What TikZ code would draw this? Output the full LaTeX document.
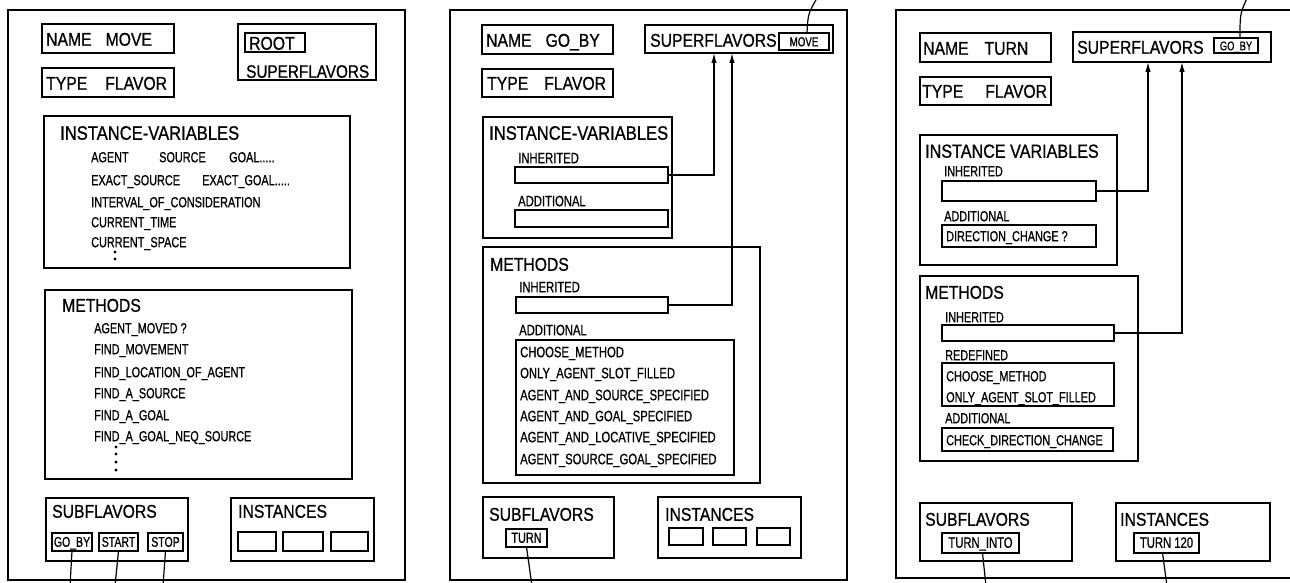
\documentclass[tikz,border=0pt]{standalone}
\usepackage{fontspec}
\newfontfamily\hf[FakeStretch=0.85,FakeBold=0.8]{Liberation Sans}
\newfontfamily\df[FakeStretch=0.75,FakeBold=0.8]{Liberation Sans}
\usetikzlibrary{arrows.meta,calc}
\newcommand\mybox[6][bxs]{\node[#1, minimum width={(#5)-(#3)}, minimum height={(#6)-(#4)}] (#2) at ({((#3)+(#5))/2},{((#4)+(#6))/2}) {};}
\begin{document}
\begin{tikzpicture}[x=1pt,y=-1pt,
  bxs/.style={draw, line width=1.5pt, inner sep=0pt, outer sep=0pt, rectangle},
  obx/.style={bxs, line width=1.8pt},
  sbx/.style={bxs, line width=1.2pt},
  hd/.style={font=\hf\fontsize{#1}{#1}\selectfont, inner sep=0pt, anchor=west, text height=13.5pt, text depth=0pt},
  hd/.default=18.5,
  it/.style={font=\df\fontsize{#1}{#1}\selectfont, inner sep=0pt, anchor=west, text height=10.4pt, text depth=0pt},
  it/.default=14.5,
  sm/.style={font=\df\fontsize{#1}{#1}\selectfont, inner sep=0pt, text height=9.5pt, text depth=0pt},
  sm/.default=14,
  con/.style={line width=1.2pt},
  arr/.style={con, -{Latex[length=10pt,width=5.5pt]}},
  dot/.style={fill=black}
]
\useasboundingbox (0,0) rectangle (1290,583);
\fill[white] (0,0) rectangle (1290,583);
\clip (0,0) rectangle (1290,583);

% ================= LEFT PANEL =================
\mybox[obx]{L}{8}{10}{405}{580}
\mybox{Lname}{42}{24}{174}{53}
\node[hd] (Lnamet) at (46,39) {NAME\hspace{14pt}MOVE};
\mybox{Ltype}{42}{68}{174}{97}
\node[hd] (Ltypet) at (46,83) {TYPE\hspace{18pt}FLAVOR};
\mybox{Lsup}{238}{24}{376}{80}
\mybox[sbx]{Lroot}{245}{33}{305}{52}
\node[hd] (Lroott) at (249,43) {ROOT};
\node[hd=18] (Lsupt) at (246,71) {SUPERFLAVORS};

\mybox{Liv}{44}{116}{350}{268}
\node[hd=19.5] (Livt) at (60,133) {INSTANCE-VARIABLES};
\node[it] (La1) at (91,157) {AGENT};
\node[it] (La2) at (159,157) {SOURCE};
\node[it] (La3) at (229,157) {GOAL.....};
\node[it] (Lb1) at (91,180) {EXACT\_SOURCE};
\node[it] (Lb2) at (202,180) {EXACT\_GOAL.....};
\node[it] (Lc) at (91,202) {INTERVAL\_OF\_CONSIDERATION};
\node[it] (Ld) at (91,222) {CURRENT\_TIME};
\node[it] (Le) at (91,242) {CURRENT\_SPACE};
\fill[dot] (115,252) circle (1.7) (115,259) circle (1.7);

\mybox{Lme}{45}{290}{352}{479}
\node[hd] (Lmet) at (62,305) {METHODS};
\node[it] (Lm1) at (94,328) {AGENT\_MOVED ?};
\node[it] (Lm2) at (94,349) {FIND\_MOVEMENT};
\node[it] (Lm3) at (94,372) {FIND\_LOCATION\_OF\_AGENT};
\node[it] (Lm4) at (94,393) {FIND\_A\_SOURCE};
\node[it] (Lm5) at (94,415) {FIND\_A\_GOAL};
\node[it] (Lm6) at (94,436) {FIND\_A\_GOAL\_NEQ\_SOURCE};
\fill[dot] (116,447) circle (1.7) (116,454) circle (1.7) (116,462) circle (1.7) (116,470) circle (1.7);

\mybox{Lsub}{46}{498}{188}{561}
\node[hd] (Lsubt) at (52,511) {SUBFLAVORS};
\mybox[sbx]{Lgo}{52}{533}{92}{551}
\node[sm] (Lgot) at (Lgo) {GO\_BY};
\mybox[sbx]{Lst}{99}{533}{138}{551}
\node[sm] (Lstt) at (Lst) {START};
\mybox[sbx]{Lsp}{148}{533}{183}{551}
\node[sm] (Lspt) at (Lsp) {STOP};
\mybox{Lin}{231}{498}{374}{561}
\node[hd] (Lint) at (238,511) {INSTANCES};
\mybox[sbx]{Li1}{238}{532}{276}{551}
\mybox[sbx]{Li2}{283}{532}{323}{551}
\mybox[sbx]{Li3}{331}{532}{368}{551}

\coordinate (Lge) at (70,586);
\coordinate (Lse) at (115,586);
\coordinate (Lpe) at (163,586);
\draw[con] (Lgo.south) -- (Lge);
\draw[con] (Lst.south) -- (Lse);
\draw[con] (Lsp.south) -- (Lpe);

% ================= MIDDLE PANEL =================
\mybox[obx]{M}{450}{10}{847}{580}
\mybox{Mname}{482}{25}{613}{54}
\node[hd] (Mnamet) at (486,40) {NAME\hspace{14pt}GO\_BY};
\mybox{Mtype}{482}{69}{613}{97}
\node[hd] (Mtypet) at (487,83) {TYPE\hspace{16pt}FLAVOR};
\mybox{Msup}{645}{25}{833}{53}
\node[hd] (Msupt) at (650,40) {SUPERFLAVORS};
\mybox[sbx]{Mmove}{779}{33}{829}{50}
\node[sm=13] (Mmovet) at (Mmove) {MOVE};

\mybox{Miv}{483}{117}{672}{238}
\node[hd=19.5] (Mivt) at (489,133) {INSTANCE-VARIABLES};
\node[it=15] (Mivl1) at (518,158) {INHERITED};
\mybox[sbx]{Mivi}{515}{167}{668}{183}
\node[it=15] (Mivl2) at (518,201) {ADDITIONAL};
\mybox[sbx]{Miva}{515}{210}{668}{227}

\mybox{Mme}{483}{247}{760}{483}
\node[hd] (Mmet) at (490,264) {METHODS};
\node[it=15] (Mmel1) at (519,287) {INHERITED};
\mybox[sbx]{Mmei}{516}{297}{668}{313}
\node[it=15] (Mmel2) at (519,330) {ADDITIONAL};
\mybox[sbx]{Mmea}{516}{340}{734}{475}
\node[it=15] (Mm1) at (520,352) {CHOOSE\_METHOD};
\node[it=15] (Mm2) at (520,373) {ONLY\_AGENT\_SLOT\_FILLED};
\node[it=15] (Mm3) at (520,395) {AGENT\_AND\_SOURCE\_SPECIFIED};
\node[it=15] (Mm4) at (520,416) {AGENT\_AND\_GOAL\_SPECIFIED};
\node[it=15] (Mm5) at (520,437) {AGENT\_AND\_LOCATIVE\_SPECIFIED};
\node[it=15] (Mm6) at (520,459) {AGENT\_SOURCE\_GOAL\_SPECIFIED};

\mybox{Msub}{483}{497}{614}{558}
\node[hd] (Msubt) at (489,514) {SUBFLAVORS};
\mybox[sbx]{Mturn}{506}{529}{547}{547}
\node[sm=14.5] (Mturnt) at (Mturn) {TURN};
\mybox{Min}{658}{497}{801}{558}
\node[hd] (Mint) at (665,514) {INSTANCES};
\mybox[sbx]{Mi1}{669}{528}{703}{545}
\mybox[sbx]{Mi2}{713}{528}{746}{545}
\mybox[sbx]{Mi3}{757}{528}{790}{545}

\coordinate (Mx1) at (714,0);
\coordinate (Mx2) at (732,0);
\draw[arr] (Mivi.east) -| (Msup.south -| Mx1);
\draw[arr] (Mmei.east) -| (Msup.south -| Mx2);
\coordinate (Mtop) at (817,-2);
\draw[con] ($(Mmove.north)+(3,0)$) .. controls (808,14) .. (Mtop);
\coordinate (Mte) at (532,586);
\draw[con] (Mturn.south) -- (Mte);

% ================= RIGHT PANEL =================
\mybox[obx]{R}{896}{10}{1310}{578}
\mybox{Rname}{920}{33}{1051}{62}
\node[hd] (Rnamet) at (923,48) {NAME\hspace{16pt}TURN};
\mybox{Rtype}{920}{77}{1051}{105}
\node[hd] (Rtypet) at (922,91) {TYPE\hspace{22pt}FLAVOR};
\mybox{Rsup}{1073}{32}{1271}{62}
\node[hd] (Rsupt) at (1077,47) {SUPERFLAVORS};
\mybox[sbx]{Rgo}{1214}{38}{1258}{53}
\node[sm=12.5] (Rgot) at (Rgo) {GO\_BY};

\mybox{Riv}{920}{135}{1117}{265}
\node[hd=19] (Rivt) at (925,151) {INSTANCE VARIABLES};
\node[it] (Rivl1) at (944,171) {INHERITED};
\mybox[sbx]{Rivi}{942}{181}{1096}{201}
\node[it] (Rivl2) at (944,216) {ADDITIONAL};
\mybox[sbx]{Riva}{942}{225}{1096}{247}
\node[it] (Rivat) at (946,236) {DIRECTION\_CHANGE ?};

\mybox{Rme}{920}{276}{1138}{461}
\node[hd] (Rmet) at (925,292) {METHODS};
\node[it] (Rmel1) at (945,317) {INHERITED};
\mybox[sbx]{Rmei}{942}{325}{1114}{341}
\node[it] (Rmel2) at (945,355) {REDEFINED};
\mybox[sbx]{Rmer}{942}{363}{1114}{406}
\node[it] (Rm1) at (946,376) {CHOOSE\_METHOD};
\node[it] (Rm2) at (946,397) {ONLY\_AGENT\_SLOT\_FILLED};
\node[it] (Rmel3) at (945,418) {ADDITIONAL};
\mybox[sbx]{Rmea}{942}{428}{1113}{451}
\node[it] (Rm3) at (946,440) {CHECK\_DIRECTION\_CHANGE};

\mybox{Rsub}{920}{503}{1072}{561}
\node[hd] (Rsubt) at (925,519) {SUBFLAVORS};
\mybox[sbx]{Rti}{942}{533}{1019}{553}
\node[sm=15] (Rtit) at (Rti) {TURN\_INTO};
\mybox{Rin}{1116}{503}{1270}{561}
\node[hd] (Rint) at (1120,519) {INSTANCES};
\mybox[sbx]{Rt120}{1134}{533}{1199}{553}
\node[sm=15] (Rt120t) at (Rt120) {TURN 120};

\coordinate (Rx1) at (1148,0);
\coordinate (Rx2) at (1182,0);
\draw[arr] (Rivi.east) -| (Rsup.south -| Rx1);
\draw[arr] (Rmei.east) -| (Rsup.south -| Rx2);
\coordinate (Rtop) at (1247,-2);
\draw[con] ($(Rgo.north)+(4,0)$) .. controls (1240,14) .. (Rtop);
\coordinate (Rtie) at (986,586);
\coordinate (Rt120e) at (1167,586);
\draw[con] ($(Rti.south)+(2,0)$) -- (Rtie);
\draw[con] ($(Rt120.south)+(-4,0)$) -- (Rt120e);
\end{tikzpicture}
\end{document}
